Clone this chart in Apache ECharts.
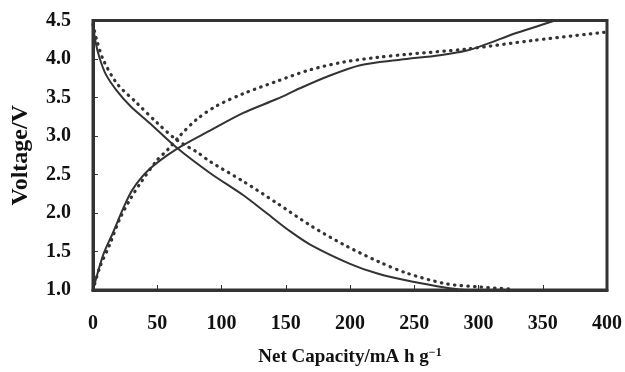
<!DOCTYPE html>
<html>
<head>
<meta charset="utf-8">
<script src="https://cdn.jsdelivr.net/npm/echarts@6/dist/echarts.min.js"></script>
<style>
html,body{margin:0;padding:0;background:#fff;}
#c{width:625px;height:372px;}
</style>
</head>
<body>
<div id="c"></div>
<script>
// Capacity (mA h g^-1) and Voltage (V) for each curve
var chargeSolidCap = [0, 8, 15.7, 23.5, 31, 44, 65, 91, 117, 143, 161, 182, 208, 239, 270, 291, 304, 330, 356, 359];
var chargeSolidV   = [1.0, 1.46, 1.75, 2.06, 2.31, 2.57, 2.83, 3.07, 3.30, 3.48, 3.62, 3.77, 3.92, 3.99, 4.05, 4.11, 4.18, 4.34, 4.48, 4.5];

var chargeDotCap = [0, 5.4, 13, 21, 29, 37, 50, 58, 68, 81, 96, 117, 143, 169, 195, 221, 244, 291, 342, 400];
var chargeDotV   = [1.0, 1.30, 1.59, 1.93, 2.18, 2.39, 2.69, 2.82, 3.01, 3.22, 3.39, 3.55, 3.71, 3.86, 3.96, 4.02, 4.06, 4.13, 4.24, 4.35];

var dischargeSolidCap = [0, 2, 5, 10, 18, 29, 44, 65, 91, 117, 135, 152, 169, 200, 222, 248, 275, 290];
var dischargeSolidV   = [4.46, 4.22, 4.02, 3.80, 3.60, 3.39, 3.17, 2.85, 2.52, 2.23, 2.00, 1.78, 1.59, 1.34, 1.21, 1.11, 1.03, 1.0];

var dischargeDotCap = [0, 3, 8, 18.7, 34, 50, 65, 81, 91, 117, 143, 169, 195, 222, 244, 275, 301, 327];
var dischargeDotV   = [4.45, 4.24, 3.99, 3.68, 3.43, 3.17, 2.95, 2.79, 2.67, 2.41, 2.13, 1.84, 1.59, 1.37, 1.22, 1.08, 1.04, 1.01];

var xTicks = [0, 50, 100, 150, 200, 250, 300, 350, 400];
var yTicks = [1.0, 1.5, 2.0, 2.5, 3.0, 3.5, 4.0, 4.5];

function pairs(xs, ys){ return xs.map(function(x,i){ return [x, ys[i]]; }); }

var FONT = "'Liberation Serif', 'Times New Roman', serif";
var INK = '#333333';

var solidStyle = { color: INK, width: 2 };
var dotStyle = { color: INK, width: 3.2, type: [0.5, 6.2], cap: 'round' };

function line(data, style){
  return { type: 'line', data: data, smooth: 0.3, showSymbol: false, symbol: 'none', lineStyle: style };
}

var chart = echarts.init(document.getElementById('c'), null, {renderer: 'canvas'});
chart.setOption({
  animation: false,
  backgroundColor: '#ffffff',
  grid: { left: 93, right: 18, top: 20.5, bottom: 75.5, show: true, borderColor: INK, borderWidth: 3, backgroundColor: 'transparent' },
  xAxis: {
    type: 'value', min: xTicks[0], max: xTicks[xTicks.length-1], interval: 50,
    name: 'Net Capacity/mA h g{sup|\u22121}', nameLocation: 'middle', nameGap: 57,
    nameTextStyle: { fontFamily: FONT, fontWeight: 'bold', fontSize: 19, color: '#111',
      rich: { sup: { fontFamily: FONT, fontWeight: 'bold', fontSize: 12, color: '#111', padding: [0,0,9,0] } } },
    axisLine: { show: true, lineStyle: { color: INK, width: 3 } },
    axisTick: { show: true, inside: true, length: 5, lineStyle: { color: INK, width: 1 } },
    axisLabel: { fontFamily: FONT, fontWeight: 'bold', fontSize: 20, color: '#111', margin: 24 },
    splitLine: { show: false }
  },
  yAxis: {
    type: 'value', min: yTicks[0], max: yTicks[yTicks.length-1], interval: 0.5,
    name: 'Voltage/V', nameLocation: 'middle', nameGap: 60, nameRotate: 90,
    nameTextStyle: { fontFamily: FONT, fontWeight: 'bold', fontSize: 24, color: '#111' },
    axisLine: { show: true, lineStyle: { color: INK, width: 3 } },
    axisTick: { show: true, inside: true, length: 5, lineStyle: { color: INK, width: 1 } },
    axisLabel: { fontFamily: FONT, fontWeight: 'bold', fontSize: 20, color: '#111', margin: 22,
      formatter: function(v){ return v.toFixed(1); } },
    splitLine: { show: false }
  },
  series: [
    line(pairs(chargeSolidCap, chargeSolidV), solidStyle),
    line(pairs(dischargeSolidCap, dischargeSolidV), solidStyle),
    line(pairs(chargeDotCap, chargeDotV), dotStyle),
    line(pairs(dischargeDotCap, dischargeDotV), dotStyle)
  ]
});
</script>
</body>
</html>
